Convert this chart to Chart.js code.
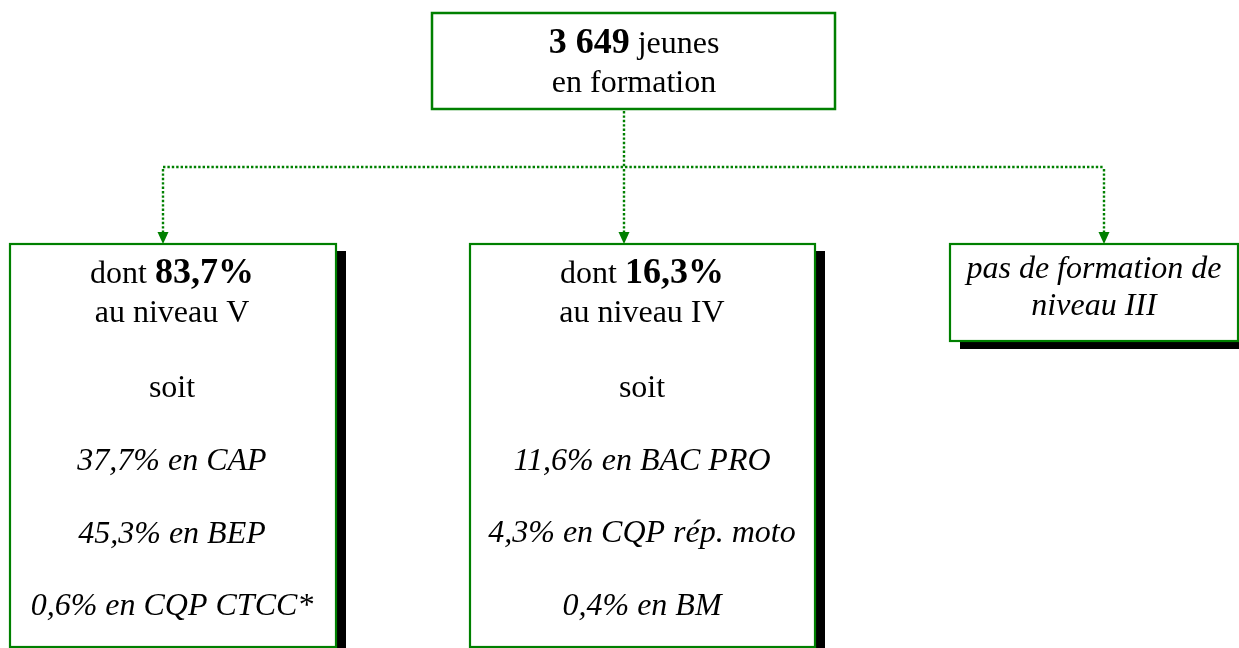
<!DOCTYPE html>
<html lang="fr">
<head>
<meta charset="utf-8">
<title>3 649 jeunes en formation</title>
<script src="https://cdn.jsdelivr.net/npm/chart.js@4/dist/chart.umd.min.js"></script>
<style>
  html, body { margin: 0; padding: 0; background: #ffffff; overflow: hidden; }
  canvas { display: block; }
</style>
</head>
<body>
<canvas id="c" width="1239" height="648"></canvas>
<script>
// ---------- DATA ----------
const totalJeunes = "3 649";
const levelNames = ["V", "IV", "III"];
const levelShares = [83.7, 16.3, null];           // % of the 3 649 young people
const levelVCategories = ["CAP", "BEP", "CQP CTCC*"];
const levelVValues = [37.7, 45.3, 0.6];
const levelIVCategories = ["BAC PRO", "CQP rép. moto", "BM"];
const levelIVValues = [11.6, 4.3, 0.4];

// ---------- LAYOUT (diagram units = pixels of the 1239x648 frame) ----------
const GREEN = "#008000";
const layout = {
  top:   { x0: 432, y0: 13, x1: 835, y1: 109, cx: 634, base: [53, 92] },
  busY: 167,
  stemX: 624,
  arrowX: [163, 624, 1104],
  boxTop: 244,
  boxes: [
    { x0: 10,  x1: 336,  y1: 647, cx: 172, base: [283, 322, 397, 470, 543, 615] },
    { x0: 470, x1: 815,  y1: 647, cx: 642, base: [283, 322, 397, 470, 542, 615] },
    { x0: 950, x1: 1238, y1: 341, cx: 1094, base: [278, 315] }
  ],
  shadowDX: 10, shadowDY: 7
};

const fmtPct = v => v.toFixed(1).replace(".", ",") + "%";
const SERIF = '"Liberation Serif", "Times New Roman", serif';

function drawRuns(ctx, runs, cx, y) {
  let total = 0;
  runs.forEach(r => { ctx.font = r.font; r.w = ctx.measureText(r.text).width; total += r.w; });
  let x = cx - total / 2;
  ctx.textAlign = "left";
  ctx.textBaseline = "alphabetic";
  runs.forEach(r => { ctx.font = r.font; ctx.fillText(r.text, x, y); x += r.w; });
}

const diagramPlugin = {
  id: "diagram",
  afterDraw(chart) {
    const ctx = chart.ctx;
    const X = v => chart.scales.x.getPixelForValue(v);
    const Y = v => chart.scales.y.getPixelForValue(v);
    ctx.save();

    // --- dotted connectors ---
    ctx.strokeStyle = GREEN;
    ctx.lineWidth = 2.4;
    ctx.setLineDash([2.4, 2]);
    ctx.beginPath();
    ctx.moveTo(X(layout.stemX), Y(layout.top.y1 + 2));
    ctx.lineTo(X(layout.stemX), Y(layout.busY));
    ctx.stroke();
    ctx.beginPath();
    ctx.moveTo(X(layout.arrowX[0]), Y(layout.busY));
    ctx.lineTo(X(layout.arrowX[2]), Y(layout.busY));
    ctx.stroke();
    layout.arrowX.forEach(ax => {
      ctx.beginPath();
      ctx.moveTo(X(ax), Y(layout.busY + 2));
      ctx.lineTo(X(ax), Y(layout.boxTop - 10));
      ctx.stroke();
    });
    ctx.setLineDash([]);
    ctx.fillStyle = GREEN;
    layout.arrowX.forEach(ax => {
      ctx.beginPath();
      ctx.moveTo(X(ax - 5.5), Y(layout.boxTop - 12));
      ctx.lineTo(X(ax + 5.5), Y(layout.boxTop - 12));
      ctx.lineTo(X(ax), Y(layout.boxTop));
      ctx.closePath();
      ctx.fill();
    });

    // --- top box ---
    const t = layout.top;
    ctx.fillStyle = "#ffffff";
    ctx.fillRect(X(t.x0), Y(t.y0), X(t.x1) - X(t.x0), Y(t.y1) - Y(t.y0));
    ctx.strokeStyle = GREEN;
    ctx.lineWidth = 2.5;
    ctx.strokeRect(X(t.x0), Y(t.y0), X(t.x1) - X(t.x0), Y(t.y1) - Y(t.y0));
    ctx.fillStyle = "#000000";
    drawRuns(ctx, [
      { text: totalJeunes, font: "bold 36px " + SERIF },
      { text: " jeunes", font: "32px " + SERIF }
    ], X(t.cx), Y(t.base[0]));
    drawRuns(ctx, [{ text: "en formation", font: "32px " + SERIF }], X(t.cx), Y(t.base[1]));

    // --- level boxes ---
    layout.boxes.forEach((b, i) => {
      const x0 = X(b.x0), x1 = X(b.x1), y0 = Y(layout.boxTop), y1 = Y(b.y1);
      ctx.fillStyle = "#000000";
      ctx.fillRect(x0 + layout.shadowDX, y0 + layout.shadowDY, x1 - x0, y1 - y0 + 1);
      ctx.fillStyle = "#ffffff";
      ctx.fillRect(x0, y0, x1 - x0, y1 - y0);
      ctx.strokeStyle = GREEN;
      ctx.lineWidth = 2.2;
      ctx.strokeRect(x0, y0, x1 - x0, y1 - y0);
      ctx.fillStyle = "#000000";
      const cx = X(b.cx);
      if (levelShares[i] === null) {
        drawRuns(ctx, [{ text: "pas de formation de", font: "italic 32px " + SERIF }], cx, Y(b.base[0]));
        drawRuns(ctx, [{ text: "niveau " + levelNames[i], font: "italic 32px " + SERIF }], cx, Y(b.base[1]));
        return;
      }
      drawRuns(ctx, [
        { text: "dont ", font: "32px " + SERIF },
        { text: fmtPct(levelShares[i]), font: "bold 36px " + SERIF }
      ], cx, Y(b.base[0]));
      drawRuns(ctx, [{ text: "au niveau " + levelNames[i], font: "32px " + SERIF }], cx, Y(b.base[1]));
      drawRuns(ctx, [{ text: "soit", font: "32px " + SERIF }], cx, Y(b.base[2]));
      const cats = i === 0 ? levelVCategories : levelIVCategories;
      const vals = i === 0 ? levelVValues : levelIVValues;
      cats.forEach((c, k) => {
        drawRuns(ctx, [{ text: fmtPct(vals[k]) + " en " + c, font: "italic 32px " + SERIF }], cx, Y(b.base[3 + k]));
      });
    });
    ctx.restore();
  }
};

new Chart(document.getElementById("c"), {
  type: "scatter",
  data: { datasets: [{ data: [], showLine: false }] },
  options: {
    responsive: false,
    animation: false,
    events: [],
    layout: { padding: 0 },
    plugins: { legend: { display: false }, tooltip: { enabled: false }, title: { display: false } },
    scales: {
      x: { type: "linear", min: 0, max: 1239, display: false },
      y: { type: "linear", min: 0, max: 648, reverse: true, display: false }
    }
  },
  plugins: [diagramPlugin]
});
</script>
</body>
</html>
